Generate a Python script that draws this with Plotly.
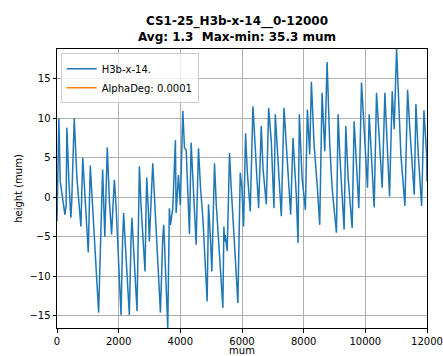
import plotly.graph_objects as go

series_name = "H3b-x-14."
alpha_name = "AlphaDeg: 0.0001"
title_line1 = "CS1-25_H3b-x-14__0-12000"
title_line2 = "Avg: 1.3\u00a0\u00a0Max-min: 35.3 mum"

x_mum = [0, 61, 104, 256, 295, 320, 385, 450, 475, 559, 645, 775, 835, 905, 1014, 1079, 1190, 1350,
         1480, 1550, 1630, 1700, 1770, 1860, 1915, 1970, 2076, 2130, 2162, 2195, 2346, 2400, 2430,
         2595, 2672, 2725, 2855, 2890, 2910, 2965, 2995, 3105, 3160, 3210, 3354, 3430, 3462, 3484,
         3592, 3645, 3680, 3755, 3840, 3863, 3940, 4000, 4080, 4135, 4190, 4296, 4350, 4405, 4513,
         4545, 4589, 4655, 4730, 4870, 4914, 4980, 5022, 5109, 5165, 5380, 5412, 5435, 5455, 5520,
         5596, 5650, 5867, 5943, 5997, 6051, 6116, 6170, 6268, 6355, 6410, 6539, 6625, 6680, 6788,
         6864, 6950, 7037, 7080, 7165, 7275, 7362, 7440, 7578, 7654, 7760, 7817, 7860, 7947, 8056,
         8120, 8164, 8196, 8250, 8337, 8445, 8466, 8521, 8597, 8684, 8760, 8792, 8846, 8922, 9063,
         9117, 9171, 9312, 9366, 9442, 9572, 9637, 9680, 9789, 9876, 9930, 10038, 10070, 10125,
         10200, 10287, 10363, 10417, 10504, 10547, 10634, 10688, 10742, 10785, 10872, 10937, 11013,
         11067, 11153, 11284, 11370, 11446, 11521, 11587, 11641, 11717, 11825, 11901, 11987, 12000]

height_mum = [-3.0, 10.0, 2.0, -2.2, -1.0, 8.8, 2.0, -2.6, -0.8, 10.0, 2.5, -3.7, 5.0, 0.8, -7.0, 4.0, -4.0, -14.6,
              3.5, -5.0, 6.3, -0.5, -4.7, 2.2, -1.0, -5.5, -14.9, -5.0, -2.0, -4.5, -14.9, -5.5, -2.6,
              -14.4, 3.9, -1.0, -9.4, -1.0, 2.5, -1.8, -5.6, 4.3, -0.3, -2.6, -14.6, -5.1, -3.5, -5.6,
              -16.55, -1.4, -3.5, -1.4, 7.2, -2.0, 2.8, -1.0, 10.9, 6.2, 6.0, -4.7, 6.9, 2.5, -6.0,
              -0.5, 6.2, 1.2, -2.6, -13.2, -0.9, -5.5, -9.4, 4.3, -0.9, -14.0, -3.7, -5.6, -4.8, -6.8,
              5.6, 1.2, -13.4, 3.1, 1.2, -3.7, 8.1, 3.3, -1.8, 11.5, 8.1, -1.4, 9.0, 3.7, -0.9,
              11.3, 7.1, -1.4, 10.5, 4.6, -2.4, 11.3, 6.7, -2.2, 7.5, 0.3, -5.8, 10.5, 2.5, -1.6,
              11.1, 7.1, 5.4, 14.6, 6.7, 1.2, -0.1, -3.5, 13.2, 5.8, 17.1, 13.0, 6.7, 1.2, -4.5,
              10.5, 5.4, -4.1, 9.0, 2.5, -3.9, 9.6, 6.5, -1.4, 14.5, 10.9, 2.8, 1.2, 10.5,
              4.6, -1.3, 13.2, 9.6, 4.1, 1.2, 13.2, 8.4, 4.6, 0.1, 13.4, 8.6, 18.75,
              14.3, 5.4, -1.1, 13.6, 8.4, 3.3, 0.3, 11.8, 5.4, -1.1, 11.0, 5.4, 2.0]

x_ticks = [0, 2000, 4000, 6000, 8000, 10000, 12000]
x_tick_labels = ["0", "2000", "4000", "6000", "8000", "10000", "12000"]
y_ticks = [-15, -10, -5, 0, 5, 10, 15]
y_tick_labels = ["\u221215", "\u221210", "\u22125", "0", "5", "10", "15"]

font = "DejaVu Sans"

fig = go.Figure()
fig.add_trace(go.Scatter(x=x_mum, y=height_mum, mode="lines", name=series_name,
                         line=dict(color="#1f77b4", width=1.5)))
fig.add_trace(go.Scatter(x=[None], y=[None], mode="lines", name=alpha_name,
                         line=dict(color="#ff7f0e", width=1.5), showlegend=True))

axis_common = dict(showline=True, linecolor="black", linewidth=1, mirror=True,
                   ticks="outside", ticklen=3.5, tickcolor="black", tickwidth=1,
                   showgrid=True, gridcolor="#b0b0b0", gridwidth=0.8, zeroline=False,
                   tickfont=dict(family=font, size=10, color="black"))

fig.update_layout(
    width=443, height=356,
    margin=dict(l=57, r=16, t=49, b=28, autoexpand=False),
    paper_bgcolor="white", plot_bgcolor="white",
    title=dict(text="<b>" + title_line1 + "<br>" + title_line2 + "</b>",
               x=0.535, xanchor="center", y=0.93, yanchor="top",
               font=dict(family=font, size=12, color="black")),
    showlegend=True,
    legend=dict(x=0.01, y=0.985, xanchor="left", yanchor="top",
                bgcolor="rgba(255,255,255,0.8)", bordercolor="#cccccc", borderwidth=1,
                font=dict(family=font, size=10, color="black"),
                itemwidth=30, tracegroupgap=0),
    xaxis=dict(range=[0, 12000], tickvals=x_ticks, ticktext=x_tick_labels, automargin=False,
               title=dict(text="mum", standoff=7, font=dict(family=font, size=10, color="black")),
               **axis_common),
    yaxis=dict(range=[min(height_mum), max(height_mum)], tickvals=y_ticks, ticktext=y_tick_labels,
               automargin=False,
               title=dict(text="height (mum)", standoff=4, font=dict(family=font, size=10, color="black")),
               **axis_common),
)

fig.write_html("out.html", config={"displayModeBar": False},
               post_script="document.body.style.margin='0';document.body.style.padding='0';")
